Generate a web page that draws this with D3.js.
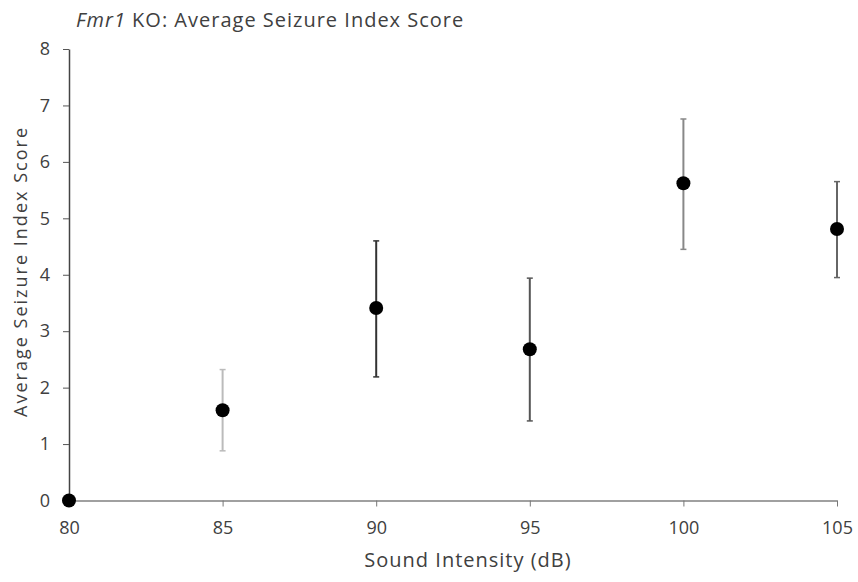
<!DOCTYPE html>
<html>
<head>
<meta charset="utf-8">
<script src="https://cdn.jsdelivr.net/npm/d3@7"></script>
<style>
    body { margin: 0; background: #fff; }
    text { font-family: "Open Sans", "Liberation Sans", sans-serif; fill: #404040; }
</style>
</head>
<body>
<div id="chart"></div>
<script>
// data
var intensity = [80, 85, 90, 95, 100, 105]
var meanScore = [0, 1.60, 3.41, 2.68, 5.62, 4.81]
var errUpper = [0, 2.32, 4.60, 3.94, 6.76, 5.65]
var errLower = [0, 0.88, 2.19, 1.41, 4.45, 3.95]
var barColor = ['#444', '#bbb', '#333', '#555', '#888', '#666']
var xTicks = [80, 85, 90, 95, 100, 105]
var yTicks = [0, 1, 2, 3, 4, 5, 6, 7, 8]

var width = 858
var height = 582
var margin = { top: 49, bottom: 82, left: 69, right: 21 }

var svg = d3.select('#chart').append('svg')
    .attr('width', width)
    .attr('height', height)

var x = d3.scaleLinear()
    .domain([80, 105])
    .range([margin.left, width - margin.right])

var y = d3.scaleLinear()
    .domain([0, 8])
    .range([height - margin.bottom + 0.5, margin.top])

// x axis
svg.append('g')
    .attr('transform', 'translate(0,' + y(0) + ')')
    .call(d3.axisBottom(x).tickValues(xTicks).tickSize(6).tickPadding(15).tickSizeOuter(0))
    .call(g => g.select('.domain').attr('stroke', '#a0a0a0').attr('stroke-width', 2))
    .call(g => g.selectAll('.tick line').attr('stroke', '#777'))
    .call(g => g.selectAll('text').attr('font-size', '18px').style('fill', '#404040'))

// y axis
svg.append('g')
    .attr('transform', 'translate(' + x(80) + ',0)')
    .call(d3.axisLeft(y).tickValues(yTicks).tickSize(6).tickPadding(13).tickSizeOuter(0))
    .call(g => g.select('.domain').attr('stroke', '#444').attr('stroke-width', 1.5))
    .call(g => g.selectAll('.tick line').attr('stroke', '#555'))
    .call(g => g.selectAll('text').attr('font-size', '18px').style('fill', '#404040'))

var points = intensity.map((d, i) => ({
    x: d, y: meanScore[i], hi: errUpper[i], lo: errLower[i], color: barColor[i]
}))

// error bars
var bars = svg.append('g')
    .selectAll('g')
    .data(points.filter(d => d.hi > d.lo))
    .join('g')
    .attr('stroke', d => d.color)

bars.append('line')
    .attr('x1', d => x(d.x)).attr('x2', d => x(d.x))
    .attr('y1', d => y(d.hi)).attr('y2', d => y(d.lo))
    .attr('stroke-width', 2)

bars.append('line')
    .attr('x1', d => x(d.x) - 3).attr('x2', d => x(d.x) + 3)
    .attr('y1', d => y(d.hi)).attr('y2', d => y(d.hi))
    .attr('stroke-width', 1.5)

bars.append('line')
    .attr('x1', d => x(d.x) - 3).attr('x2', d => x(d.x) + 3)
    .attr('y1', d => y(d.lo)).attr('y2', d => y(d.lo))
    .attr('stroke-width', 1.5)

// markers
svg.append('g')
    .selectAll('circle')
    .data(points)
    .join('circle')
    .attr('cx', d => x(d.x))
    .attr('cy', d => y(d.y))
    .attr('r', 7)
    .attr('fill', '#000')

// title
var title = svg.append('text')
    .attr('x', 76)
    .attr('y', 27)
    .attr('font-size', '20px')
    .attr('letter-spacing', 1)
title.append('tspan').attr('font-style', 'italic').text('Fmr1')
title.append('tspan').text(' KO: Average Seizure Index Score')

// axis titles
svg.append('text')
    .attr('x', 468)
    .attr('y', 567)
    .attr('text-anchor', 'middle')
    .attr('font-size', '20px')
    .attr('letter-spacing', 1)
    .text('Sound Intensity (dB)')

svg.append('text')
    .attr('transform', 'translate(27,272.5) rotate(-90)')
    .attr('text-anchor', 'middle')
    .attr('font-size', '18px')
    .attr('textLength', 289)
    .attr('lengthAdjust', 'spacing')
    .text('Average Seizure Index Score')
</script>
</body>
</html>
